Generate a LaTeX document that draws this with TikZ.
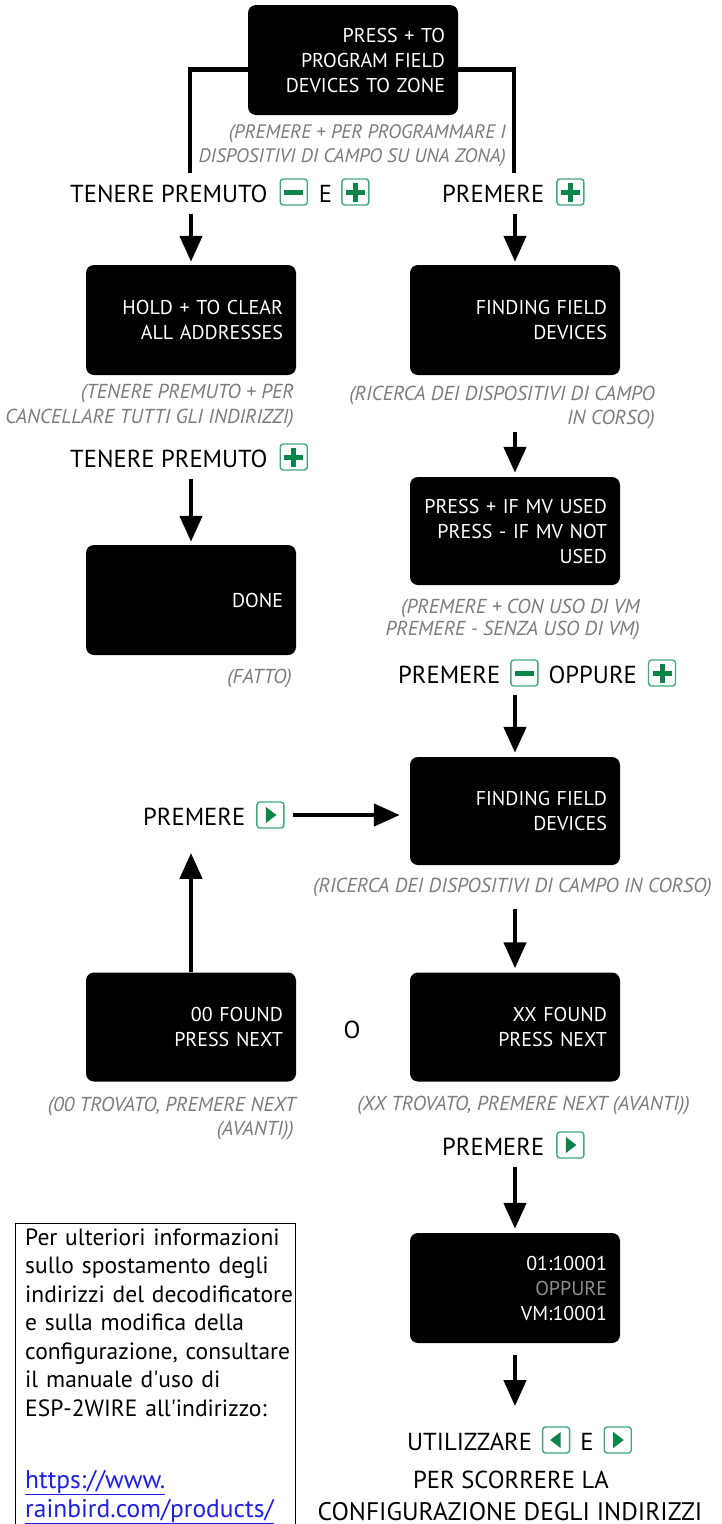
\documentclass[tikz,border=0pt]{standalone}
\usepackage{fontspec}
\setmainfont{PT Sans}
\usetikzlibrary{arrows.meta}
\definecolor{btngreen}{HTML}{0A8549}
\definecolor{btnedge}{HTML}{43A97A}
\definecolor{capgrey}{HTML}{7C7C7C}
\definecolor{dimgrey}{HTML}{8E8E8E}
\definecolor{linkblue}{HTML}{1F1FE6}
\newcommand\btnframe[1]{\tikz[baseline=-10pt,x=1pt,y=1pt]{\draw[btnedge,line width=1.4pt,fill=white,rounded corners=3pt] (-13.5,-13) rectangle (13.5,13); #1}}
\newcommand\bminus{\btnframe{\fill[btngreen] (-9.5,-2.5) rectangle (9.5,2.5);}}
\newcommand\bplus{\btnframe{\fill[btngreen] (-9.5,-2.5) rectangle (9.5,2.5); \fill[btngreen] (-2.5,-9.5) rectangle (2.5,9.5);}}
\newcommand\bright{\btnframe{\fill[btngreen] (-4.5,-8) -- (6,0) -- (-4.5,8) -- cycle;}}
\newcommand\bleft{\btnframe{\fill[btngreen] (4.5,-8) -- (-6,0) -- (4.5,8) -- cycle;}}
\tikzset{
  screen/.style={rectangle, rounded corners=8pt, fill=black, minimum width=210pt, minimum height=110pt,
    text width=184pt, align=right, text=white, font=\fontsize{20}{25}\selectfont, inner sep=0pt},
  capt/.style={font=\fontsize{20.2}{24}\selectfont\itshape, text=capgrey, inner sep=0pt, anchor=base east},
  lbl/.style={font=\fontsize{24.6}{29}\selectfont, inner sep=0pt, anchor=base west},
  conn/.style={line width=4.5pt},
  arr/.style={line width=4.5pt, -{Triangle[width=22pt,length=26pt]}},
}
\begin{document}
\begin{tikzpicture}[x=1pt,y=-1pt]
\useasboundingbox[fill=white] (0,0) rectangle (721,1524);
% screens
\node[screen] (top) at (353,60) {PRESS + TO\\PROGRAM FIELD\\DEVICES TO ZONE};
\node[screen] (hold) at (191,320) {HOLD + TO CLEAR\\ALL ADDRESSES};
\node[screen] (find1) at (515,320) {FINDING FIELD\\DEVICES};
\node[screen] (done) at (191,600) {DONE};
\node[screen, minimum height=108pt] (mv) at (515,531) {PRESS + IF MV USED\\PRESS - IF MV NOT\\USED};
\node[screen, minimum height=108pt] (find2) at (515,811) {FINDING FIELD\\DEVICES};
\node[screen, minimum height=109pt] (zero) at (191,1027) {00 FOUND\\PRESS NEXT};
\node[screen, minimum height=109pt] (xx) at (515,1027) {XX FOUND\\PRESS NEXT};
\node[screen] (addr) at (515,1288) {01:10001\\\textcolor{dimgrey}{OPPURE}\\VM:10001};
% captions
\node[capt, font=\fontsize{19.5}{24}\selectfont\itshape] (ctopa) at (506,138) {(PREMERE + PER PROGRAMMARE I};
\node[capt, font=\fontsize{19.5}{24}\selectfont\itshape] (ctopb) at (506,162) {DISPOSITIVI DI CAMPO SU UNA ZONA)};
\node[capt] (cholda) at (294,398) {(TENERE PREMUTO + PER};
\node[capt] (choldb) at (294,423) {CANCELLARE TUTTI GLI INDIRIZZI)};
\node[capt] (cfinda) at (655,400) {(RICERCA DEI DISPOSITIVI DI CAMPO};
\node[capt] (cfindb) at (655,424) {IN CORSO)};
\node[capt] (cdone) at (292,683) {(FATTO)};
\node[capt] (cmva) at (640,613) {(PREMERE + CON USO DI VM};
\node[capt] (cmvb) at (640,635) {PREMERE - SENZA USO DI VM)};
\node[capt] (cfindc) at (712,892) {(RICERCA DEI DISPOSITIVI DI CAMPO IN CORSO)};
\node[capt] (czeroa) at (296,1111) {(00 TROVATO, PREMERE NEXT};
\node[capt] (czerob) at (294,1135) {(AVANTI))};
\node[capt] (cxx) at (690,1110) {(XX TROVATO, PREMERE NEXT (AVANTI))};
% labels
\node[lbl] (l1) at (70,202) {TENERE PREMUTO\hspace{12pt}\bminus\hspace{11pt}E\hspace{9pt}\bplus};
\node[lbl] (l2) at (442,202) {PREMERE\hspace{12pt}\bplus};
\node[lbl] (l3) at (70,467) {TENERE PREMUTO\hspace{12pt}\bplus};
\node[lbl] (l4) at (398,683) {PREMERE\hspace{10pt}\bminus\hspace{10pt}OPPURE\hspace{11pt}\bplus};
\node[lbl] (l5) at (143,825) {PREMERE\hspace{11pt}\bright};
\node[lbl, anchor=base] (o) at (352,1038) {O};
\node[lbl] (l7) at (442,1155) {PREMERE\hspace{12pt}\bright};
\node[lbl] (l8) at (407,1450) {UTILIZZARE\hspace{10pt}\bleft\hspace{10pt}E\hspace{10pt}\bright};
\node[lbl, anchor=base] (l9) at (511,1488) {PER SCORRERE LA};
\node[lbl, anchor=base, font=\fontsize{25.4}{29}\selectfont] (l10) at (510,1520) {CONFIGURAZIONE DEGLI INDIRIZZI};
% info box
\draw[line width=0.8pt] (15,1600) -- (15,1223) -- (295,1223) -- (295,1600);
\node[lbl, text width=275pt, align=left, font=\fontsize{23.5}{28.5}\selectfont] (info) at (25,1245)
  {Per ulteriori informazioni\\sullo spostamento degli\\indirizzi del decodificatore\\e sulla modifica della\\configurazione, consultare\\il manuale d\textquotesingle uso di\\ESP-2WIRE all\textquotesingle indirizzo:};
\node[lbl, text width=275pt, align=left, font=\fontsize{25.5}{29}\selectfont, text=linkblue] (link) at (25,1488)
  {\underline{https://www.}\\\underline{rainbird.com/products/}};
% connectors
\coordinate (jl) at (190,173);
\coordinate (jr) at (514,173);
\draw[conn] ([yshift=-9.5pt]top.west) -| (jl);
\draw[conn] ([yshift=-9.5pt]top.east) -| (jr);
\draw[arr, shorten <=8pt, shorten >=3pt] (l1.south -| hold.north) -- (hold.north);
\draw[arr, shorten <=8pt, shorten >=3pt] (l2.south -| find1.north) -- (find1.north);
\draw[arr, shorten <=8pt, shorten >=3pt] (l3.south -| done.north) -- (done.north);
\draw[arr, shorten <=3pt, shorten >=4pt] (cfindb.south -| find1.south) -- (mv.north);
\draw[arr, shorten <=8pt, shorten >=4pt] (l4.south -| find2.north) -- (find2.north);
\draw[arr, shorten <=12pt, shorten >=4pt] (cfindc.south -| find2.south) -- (xx.north);
\draw[arr, shorten >=24pt] (zero.north) -- (l5.south -| zero.north);
\draw[arr, shorten <=8pt, shorten >=10pt] (l5.east) -- (l5.east -| find2.west);
\draw[arr, shorten <=8pt, shorten >=4pt] (l7.south -| addr.north) -- (addr.north);
\draw[arr, shorten <=12pt, shorten >=20pt] (addr.south) -- (l8.north -| addr.south);
\end{tikzpicture}
\end{document}
